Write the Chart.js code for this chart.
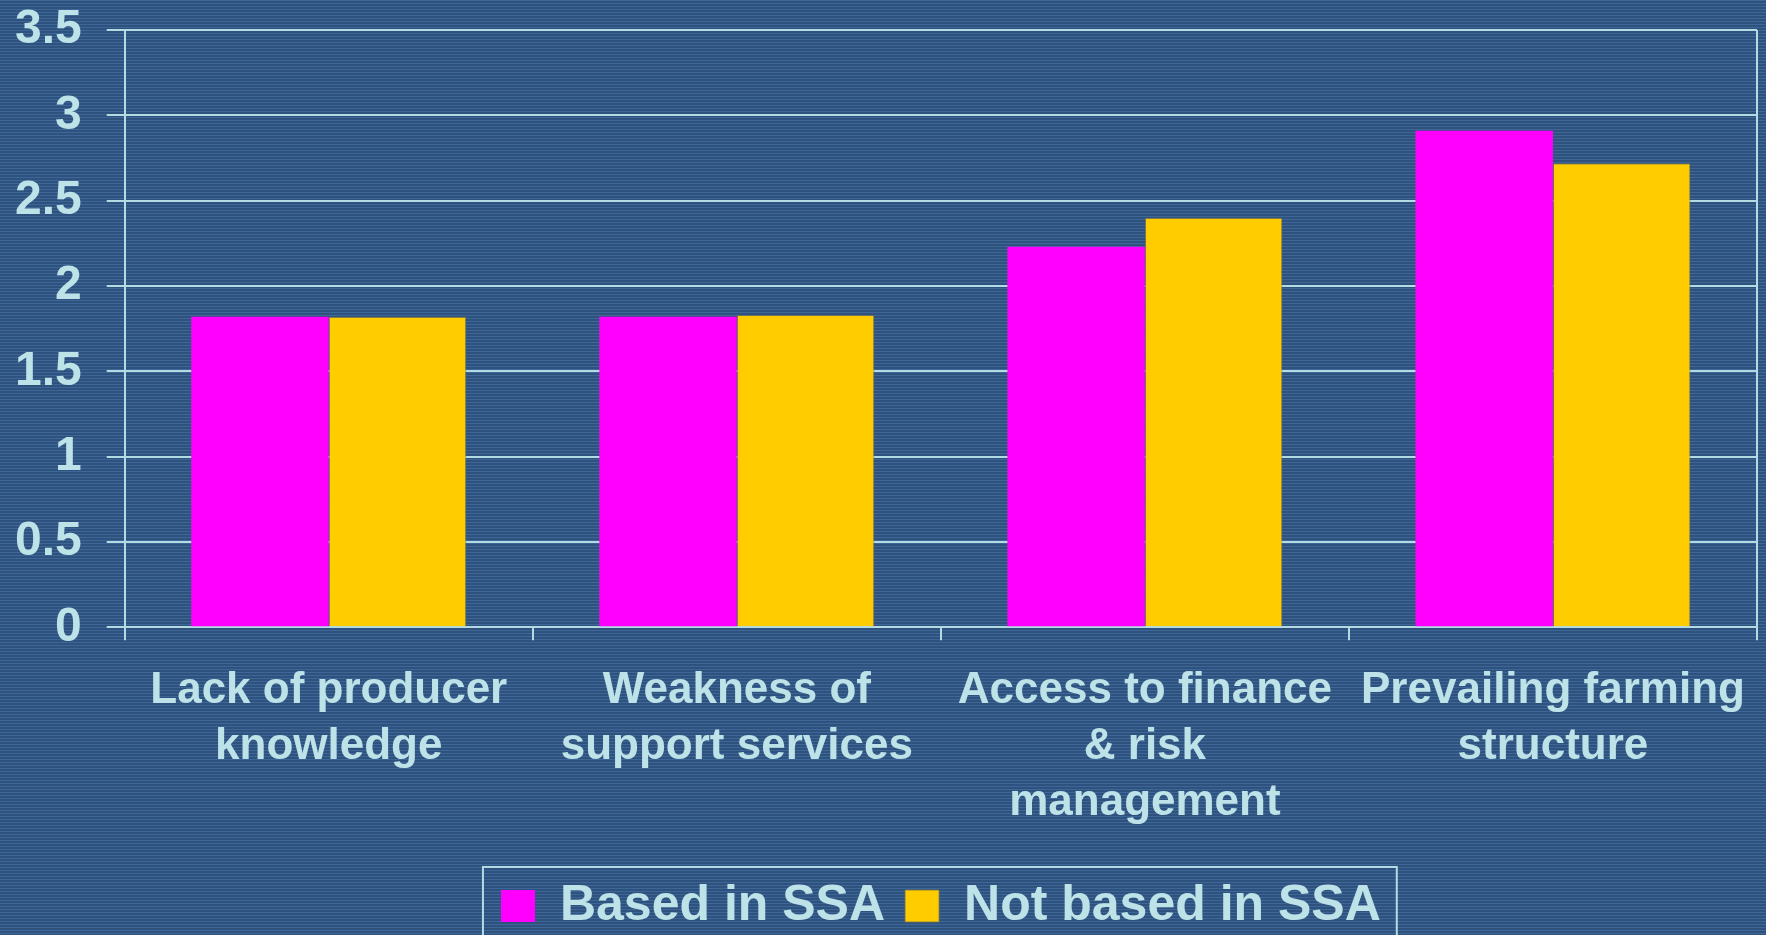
<!DOCTYPE html>
<html>
<head>
<meta charset="utf-8">
<script src="https://cdn.jsdelivr.net/npm/chart.js@4.4.1/dist/chart.umd.min.js"></script>
<style>
  html, body { margin: 0; padding: 0; background: #315683; overflow: hidden; }
  #wrap { width: 1766px; height: 935px; }
</style>
</head>
<body>
<div id="wrap"><canvas id="myChart"></canvas></div>
<script>
const categories = [
  ['Lack of producer', 'knowledge'],
  ['Weakness of', 'support services'],
  ['Access to finance', '& risk', 'management'],
  ['Prevailing farming', 'structure']
];
const basedInSSA = [1.82, 1.82, 2.23, 2.91];
const notBasedInSSA = [1.82, 1.83, 2.40, 2.72];
const yTicks = [0, 0.5, 1, 1.5, 2, 2.5, 3, 3.5];

const textColor = '#BDE3E8';
const lineColor = '#B3DBE3';
const fontFamily = '"Liberation Sans", Arial, sans-serif';

// striped slide background
const stripes = {
  id: 'stripes',
  beforeDraw(chart) {
    const c = chart.ctx;
    const tile = document.createElement('canvas');
    tile.width = 4; tile.height = 3;
    const t = tile.getContext('2d');
    t.fillStyle = '#2E517D';
    t.fillRect(0, 0, 4, 3);
    t.fillStyle = '#3C6797';
    t.fillRect(0, 0, 4, 1);
    c.save();
    c.fillStyle = c.createPattern(tile, 'repeat');
    c.fillRect(0, 0, chart.width, chart.height);
    c.restore();
  }
};

// right edge of plot + box round the legend
const frame = {
  id: 'frame',
  afterDraw(chart) {
    const c = chart.ctx;
    const a = chart.chartArea;
    c.save();
    c.strokeStyle = lineColor;
    c.lineWidth = 2;
    c.beginPath();
    c.moveTo(a.right, a.top);
    c.lineTo(a.right, a.bottom);
    c.stroke();
    const hb = chart.legend.legendHitBoxes;
    if (hb && hb.length) {
      const first = hb[0], last = hb[hb.length - 1];
      const left = first.left - 18;
      const right = last.left + last.width + 16;
      const top = first.top + first.height / 2 - 39;
      c.strokeRect(left, top, right - left, chart.height + 10 - top);
    }
    c.restore();
  }
};

new Chart(document.getElementById('myChart'), {
  type: 'bar',
  data: {
    labels: categories,
    datasets: [{
      label: 'Based in SSA',
      data: basedInSSA,
      backgroundColor: '#FF00FF',
      borderWidth: 0
    }, {
      label: 'Not based in SSA',
      data: notBasedInSSA,
      backgroundColor: '#FFCC00',
      borderColor: 'rgba(120,115,80,0.8)',
      borderWidth: 1
    }]
  },
  options: {
    responsive: true,
    maintainAspectRatio: false,
    animation: false,
    layout: { padding: { left: -10, right: 9, top: 30, bottom: -6 } },
    datasets: {
      bar: { categoryPercentage: 0.674, barPercentage: 1 }
    },
    plugins: {
      tooltip: { enabled: false },
      legend: {
        position: 'bottom',
        fullSize: false,
        labels: {
          color: textColor,
          font: { family: fontFamily, size: 50, weight: 'bold' },
          boxWidth: 34,
          boxHeight: 32,
          padding: 20
        }
      }
    },
    scales: {
      x: {
        offset: true,
        grid: { drawOnChartArea: false, color: lineColor, lineWidth: 2, tickLength: 13, offset: true },
        border: { display: true, color: lineColor, width: 2 },
        ticks: {
          color: textColor,
          font: { family: fontFamily, size: 44, weight: 'bold', lineHeight: 1.27 },
          padding: 23,
          maxRotation: 0,
          autoSkip: false
        },
        afterFit(scale) {
          scale.height += 7;
          scale.paddingLeft = 0;
          scale.paddingRight = 0;
        }
      },
      y: {
        min: yTicks[0],
        max: yTicks[yTicks.length - 1],
        afterBuildTicks(scale) { scale.ticks = yTicks.map(v => ({ value: v })); },
        afterFit(scale) {
          scale.paddingTop = 0;
          scale.paddingBottom = 0;
        },
        grid: { color: lineColor, lineWidth: 2, tickLength: 18 },
        border: { display: true, color: lineColor, width: 2 },
        ticks: {
          color: textColor,
          font: { family: fontFamily, size: 48, weight: 'bold' },
          padding: 25,
          callback: v => String(v)
        }
      }
    }
  },
  plugins: [stripes, frame]
});
</script>
</body>
</html>
